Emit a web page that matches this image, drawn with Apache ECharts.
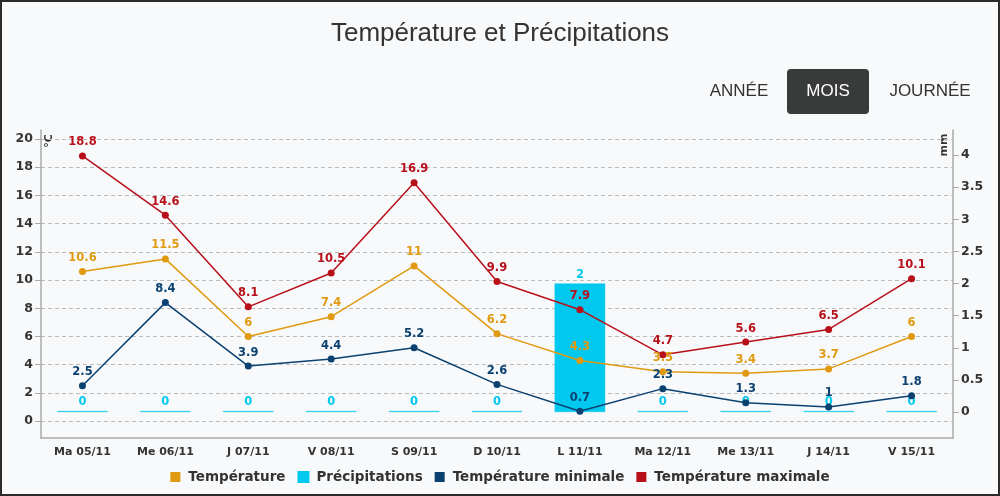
<!DOCTYPE html>
<html>
<head>
<meta charset="utf-8">
<script src="https://cdn.jsdelivr.net/npm/echarts@6/dist/echarts.min.js"></script>
<style>
html,body{margin:0;padding:0;}
#wrap{width:1000px;height:496px;box-sizing:border-box;border:2px solid #2b2b2b;background:#f8f9fa;position:relative;}
#chart{position:absolute;left:-2px;top:-2px;width:1000px;height:496px;}
</style>
</head>
<body>
<div id="wrap"><div id="chart"></div></div>
<script>
const categories = ['Ma 05/11','Me 06/11','J 07/11','V 08/11','S 09/11','D 10/11','L 11/11','Ma 12/11','Me 13/11','J 14/11','V 15/11'];
const temperature = [10.6, 11.5, 6, 7.4, 11, 6.2, 4.3, 3.5, 3.4, 3.7, 6];
const precipitation = [0, 0, 0, 0, 0, 0, 2, 0, 0, 0, 0];
const tempMin = [2.5, 8.4, 3.9, 4.4, 5.2, 2.6, 0.7, 2.3, 1.3, 1, 1.8];
const tempMax = [18.8, 14.6, 8.1, 10.5, 16.9, 9.9, 7.9, 4.7, 5.6, 6.5, 10.1];
const leftTicks = [0, 2, 4, 6, 8, 10, 12, 14, 16, 18, 20];
const rightTicks = [0, 0.5, 1, 1.5, 2, 2.5, 3, 3.5, 4];

const C_TEMP = '#e09a12';
const C_PREC = '#00c8ef';
const C_MIN = '#0b4170';
const C_MAX = '#b8101a';
const FONT = '"Liberation Sans", Arial, sans-serif';
const VFONT = '"DejaVu Sans", Verdana, sans-serif';

const chart = echarts.init(document.getElementById('chart'), null, {renderer: 'canvas'});

function lineSeries(name, data, color) {
  return {
    name: name, type: 'line', yAxisIndex: 0, data: data,
    symbol: 'circle', symbolSize: 7,
    itemStyle: {color: color},
    lineStyle: {color: color, width: 1.5},
    label: {show: true, position: 'top', distance: 4, color: color, fontWeight: 'bold', fontSize: 11.5, fontFamily: VFONT},
    emphasis: {disabled: true},
    z: 3
  };
}

const option = {
  animation: false,
  backgroundColor: 'transparent',
  textStyle: {fontFamily: VFONT},
  title: {
    text: 'Température et Précipitations',
    left: 'center', top: 16,
    textStyle: {fontSize: 26, fontWeight: 'normal', color: '#333', fontFamily: FONT}
  },
  legend: {
    bottom: 7, left: 'center',
    itemWidth: 10, itemHeight: 10, itemGap: 12,
    icon: 'rect',
    textStyle: {fontSize: 13.5, fontWeight: 'bold', color: '#333', fontFamily: VFONT, padding: [0, 0, 0, 3]},
    data: ['Température', 'Précipitations', 'Température minimale', 'Température maximale']
  },
  grid: {left: 41, right: 47, top: 130, bottom: 58},
  xAxis: {
    type: 'category', data: categories, boundaryGap: true,
    axisLine: {onZero: false, lineStyle: {color: '#aaa', width: 1.5}},
    axisTick: {alignWithLabel: true, length: 6, lineStyle: {color: '#aaa'}},
    axisLabel: {color: '#333', fontWeight: 'bold', fontSize: 11, margin: 9, fontFamily: VFONT, interval: 0}
  },
  yAxis: [
    {
      type: 'value', min: -1.2, max: 20.64, position: 'left',
      axisLine: {show: true, lineStyle: {color: '#aaa', width: 1.5}},
      axisTick: {show: true, length: 6, customValues: leftTicks, lineStyle: {color: '#aaa'}},
      axisLabel: {customValues: leftTicks, color: '#333', fontWeight: 'bold', fontSize: 12.5, margin: 8, fontFamily: VFONT},
      splitLine: {show: true, lineStyle: {color: '#bbb', type: [4, 3], width: 1}}
    },
    {
      type: 'value', min: -0.405, max: 4.39, position: 'right',
      axisLine: {show: true, lineStyle: {color: '#aaa', width: 1.5}},
      axisTick: {show: true, length: 6, customValues: rightTicks, lineStyle: {color: '#aaa'}},
      axisLabel: {customValues: rightTicks, color: '#333', fontWeight: 'bold', fontSize: 12.5, margin: 8, fontFamily: VFONT},
      splitLine: {show: false}
    }
  ],
  series: [
    lineSeries('Température', temperature, C_TEMP),
    {
      name: 'Précipitations', type: 'bar', yAxisIndex: 1, data: precipitation,
      barWidth: '61%', barMinHeight: 1,
      itemStyle: {color: C_PREC, borderColor: C_PREC, borderWidth: 0.5},
      label: {show: true, position: 'top', distance: 3, color: C_PREC, fontWeight: 'bold', fontSize: 11.5, fontFamily: VFONT},
      emphasis: {disabled: true},
      z: 2
    },
    lineSeries('Température minimale', tempMin, C_MIN),
    lineSeries('Température maximale', tempMax, C_MAX)
  ],
  graphic: [
    {type: 'text', x: 739, y: 91, style: {text: 'ANNÉE', fill: '#333', font: '17px ' + FONT, align: 'center', verticalAlign: 'middle'}},
    {type: 'rect', shape: {x: 787, y: 69, width: 82, height: 45, r: 4}, style: {fill: '#393a3a'}},
    {type: 'text', x: 828, y: 91, style: {text: 'MOIS', fill: '#fff', font: '17px ' + FONT, align: 'center', verticalAlign: 'middle'}},
    {type: 'text', x: 930, y: 91, style: {text: 'JOURNÉE', fill: '#333', font: '17px ' + FONT, align: 'center', verticalAlign: 'middle'}},
    {type: 'text', x: 49, y: 141, rotation: Math.PI / 2, style: {text: '°C', fill: '#333', font: 'bold 11px ' + VFONT, align: 'center', verticalAlign: 'middle'}},
    {type: 'text', x: 944, y: 145, rotation: Math.PI / 2, style: {text: 'mm', fill: '#333', font: 'bold 11px ' + VFONT, align: 'center', verticalAlign: 'middle'}}
  ]
};
chart.setOption(option);
</script>
</body>
</html>
